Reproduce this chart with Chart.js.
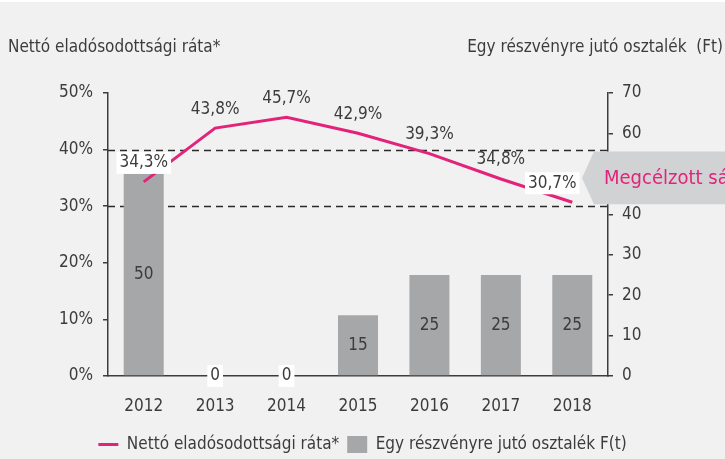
<!DOCTYPE html>
<html>
<head>
<meta charset="utf-8">
<script src="https://cdn.jsdelivr.net/npm/chart.js@4/dist/chart.umd.min.js"></script>
<style>
  html, body { margin: 0; padding: 0; background: #ffffff; }
  #wrap { width: 725px; height: 459px; }
</style>
</head>
<body>
<div id="wrap"><canvas id="chart" width="725" height="459"></canvas></div>
<script>
// ---- data ----
const YEARS = ['2012', '2013', '2014', '2015', '2016', '2017', '2018'];
const DEBT_RATIO = [34.3, 43.8, 45.7, 42.9, 39.3, 34.8, 30.7];   // %
const DIVIDEND = [50, 0, 0, 15, 25, 25, 25];                      // Ft
const TARGET_BAND = [30, 40];                                     // %
const LEFT_TITLE = 'Nettó eladósodottsági ráta*';
const RIGHT_TITLE = 'Egy részvényre jutó osztalék  (Ft)';
const BAND_LABEL = 'Megcélzott sá';

const FONT = "'Liberation Sans Narrow', 'DejaVu Sans Condensed', 'Liberation Sans', sans-serif";
const MAGENTA = '#e3237a';
const BAR_GREY = '#a6a7a9';
const INK = '#3c3c3c';
const BG = '#f1f1f1';

const fmtPct = v => v.toFixed(1).replace('.', ',') + '%';

// background + white strip on top
const bgPlugin = {
  id: 'bg',
  beforeDraw(chart) {
    const c = chart.ctx;
    c.save();
    c.fillStyle = BG;
    c.fillRect(0, 0, chart.width, chart.height);
    c.fillStyle = '#ffffff';
    c.fillRect(0, 0, chart.width, 2);
    c.restore();
  }
};

// dashed target band lines, under the bars
const bandPlugin = {
  id: 'band',
  beforeDatasetsDraw(chart) {
    const c = chart.ctx, y = chart.scales.y, a = chart.chartArea;
    c.save();
    c.strokeStyle = '#2a2a2a';
    c.lineWidth = 1.4;
    c.setLineDash([7, 5]);
    TARGET_BAND.forEach(v => {
      const py = Math.round(y.getPixelForValue(v)) + 0.5;
      c.beginPath();
      c.moveTo(a.left, py);
      c.lineTo(a.right, py);
      c.stroke();
    });
    c.restore();
  }
};

function boxedText(c, txt, x, y, boxed) {
  const w = c.measureText(txt).width;
  if (boxed) {
    c.fillStyle = '#ffffff';
    c.fillRect(x - w / 2 - 3, y - 11, w + 6, 22);
  }
  c.fillStyle = INK;
  c.fillText(txt, x, y);
}

// value labels, axis titles, target band arrow
const labelPlugin = {
  id: 'labels',
  afterDraw(chart) {
    const c = chart.ctx;
    c.save();
    c.font = '17px ' + FONT;
    c.textAlign = 'center';
    c.textBaseline = 'middle';

    // bar labels
    const barMeta = chart.getDatasetMeta(1);
    barMeta.data.forEach((bar, i) => {
      const v = DIVIDEND[i];
      if (v === 0) {
        boxedText(c, '0', bar.x, bar.base, true);
      } else {
        boxedText(c, String(v), bar.x, (bar.y + bar.base) / 2, false);
      }
    });

    // line labels
    const lineMeta = chart.getDatasetMeta(0);
    const last = DEBT_RATIO.length - 1;
    lineMeta.data.forEach((pt, i) => {
      const boxed = i === 0 || i === last;
      const dx = i === last ? -20 : 0;
      boxedText(c, fmtPct(DEBT_RATIO[i]), pt.x + dx, pt.y - 19, boxed);
    });

    // axis titles
    c.textBaseline = 'middle';
    c.textAlign = 'left';
    c.fillStyle = INK;
    c.fillText(LEFT_TITLE, 8, 48);
    c.textAlign = 'right';
    c.fillText(RIGHT_TITLE, 723, 48);

    // target band arrow box
    const y = chart.scales.y;
    const top = y.getPixelForValue(TARGET_BAND[1]) + 2;
    const bot = y.getPixelForValue(TARGET_BAND[0]) - 2;
    const mid = (top + bot) / 2;
    const tip = chart.chartArea.right - 26;
    c.fillStyle = '#d1d2d4';
    c.beginPath();
    c.moveTo(tip, mid);
    c.lineTo(tip + 12, top);
    c.lineTo(chart.width, top);
    c.lineTo(chart.width, bot);
    c.lineTo(tip + 12, bot);
    c.closePath();
    c.fill();
    c.fillStyle = MAGENTA;
    c.font = '20px ' + FONT;
    c.textAlign = 'left';
    c.fillText(BAND_LABEL, tip + 22, mid + 1);
    c.restore();
  }
};

new Chart(document.getElementById('chart'), {
  data: {
    labels: YEARS,
    datasets: [
      {
        type: 'line',
        label: 'Nettó eladósodottsági ráta*',
        data: DEBT_RATIO,
        yAxisID: 'y',
        borderColor: MAGENTA,
        backgroundColor: MAGENTA,
        borderWidth: 3,
        pointRadius: 0,
        pointStyle: 'line',
        tension: 0,
        order: 0
      },
      {
        type: 'bar',
        label: 'Egy részvényre jutó osztalék F(t)',
        data: DIVIDEND,
        yAxisID: 'y1',
        backgroundColor: BAR_GREY,
        borderWidth: 0,
        pointStyle: 'rect',
        categoryPercentage: 1,
        barPercentage: 0.56,
        order: 1
      }
    ]
  },
  options: {
    responsive: false,
    animation: false,
    layout: { padding: { top: 93, left: 0, right: 0, bottom: -4 } },
    plugins: {
      legend: {
        position: 'bottom',
        labels: {
          usePointStyle: true,
          pointStyleWidth: 20,
          boxHeight: 19,
          color: INK,
          padding: 8,
          font: { family: FONT, size: 17 }
        }
      },
      tooltip: { enabled: false }
    },
    scales: {
      x: {
        grid: { display: false, drawTicks: false },
        border: { display: true, color: INK, width: 1.5 },
        ticks: { color: INK, padding: 20, font: { family: FONT, size: 17 } },
        afterFit: s => { s.height = 52; }
      },
      y: {
        position: 'left',
        min: 0, max: 50,
        grid: { drawOnChartArea: false, drawTicks: true, tickLength: 5, color: INK, lineWidth: 1.5 },
        border: { display: true, color: INK, width: 1.5 },
        ticks: { stepSize: 10, color: INK, padding: 10, font: { family: FONT, size: 17 }, callback: v => v + '%' },
        afterFit: s => { s.width = 108; }
      },
      y1: {
        position: 'right',
        min: 0, max: 70,
        grid: { drawOnChartArea: false, drawTicks: true, tickLength: 5, color: INK, lineWidth: 1.5 },
        border: { display: true, color: INK, width: 1.5 },
        ticks: { stepSize: 10, color: INK, padding: 9, font: { family: FONT, size: 17 } },
        afterFit: s => { s.width = 117; }
      }
    }
  },
  plugins: [bgPlugin, bandPlugin, labelPlugin]
});
</script>
</body>
</html>
